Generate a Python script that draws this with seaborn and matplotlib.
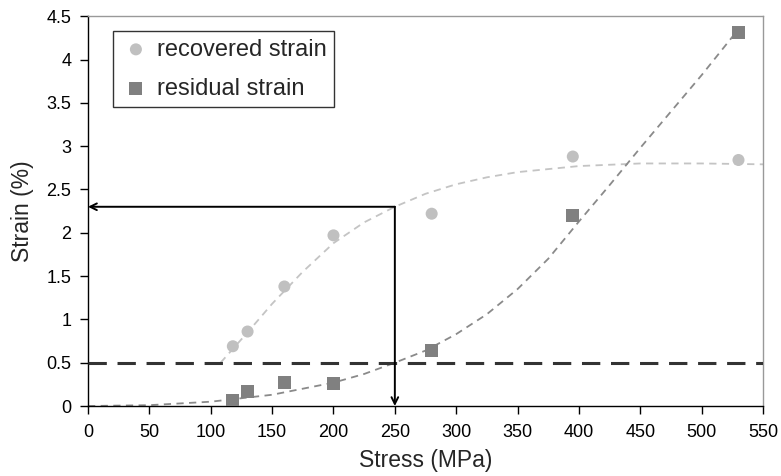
import matplotlib
matplotlib.use("Agg")
import matplotlib.pyplot as plt
import numpy as np
import pandas as pd
import seaborn as sns

# measured points
stress = [118, 130, 160, 200, 280, 395, 530]
recovered = [0.69, 0.86, 1.38, 1.97, 2.22, 2.88, 2.84]
residual = [0.06, 0.17, 0.27, 0.26, 0.64, 2.20, 4.31]

# trend curves
rec_fit_x = [108, 130, 150, 175, 200, 225, 250, 275, 300, 325, 350, 400, 450, 500, 550]
rec_fit_y = [0.50, 0.85, 1.18, 1.55, 1.88, 2.12, 2.30, 2.45, 2.56, 2.64, 2.70, 2.77, 2.80, 2.80, 2.79]
res_fit_x = [0, 50, 100, 150, 200, 225, 250, 275, 300, 325, 350, 375, 400, 425, 450, 475, 500, 530]
res_fit_y = [0.00, 0.01, 0.05, 0.13, 0.27, 0.37, 0.50, 0.64, 0.83, 1.06, 1.35, 1.70, 2.13, 2.55, 2.98, 3.40, 3.82, 4.35]

# read-off point
x_read, y_read = 250, 2.3
threshold = 0.5

df = pd.DataFrame({"stress": stress, "recovered": recovered, "residual": residual})

sns.set_theme(style="white")
plt.rcParams["font.family"] = ["Liberation Sans", "DejaVu Sans"]

fig = plt.figure(figsize=(7.81, 4.76), dpi=100)
ax = fig.add_axes([0.1127, 0.147, 0.8643, 0.819])

sns.lineplot(x=rec_fit_x, y=rec_fit_y, ax=ax, color="#c4c4c4", linestyle=(0, (4, 3)),
             linewidth=1.3, zorder=2)
sns.lineplot(x=res_fit_x, y=res_fit_y, ax=ax, color="#8a8a8a", linestyle=(0, (4, 3)),
             linewidth=1.3, zorder=2)

sns.scatterplot(data=df, x="stress", y="recovered", ax=ax, marker="o", s=75,
                color="#c0c0c0", edgecolor="none", label="recovered strain", zorder=4)
sns.scatterplot(data=df, x="stress", y="residual", ax=ax, marker="s", s=85,
                color="#808080", edgecolor="none", label="residual strain", zorder=4)

ax.axhline(threshold, color="#333333", linewidth=2.2, linestyle=(0, (6, 3.5)), zorder=3)

# arrows
ax.annotate("", xy=(0, y_read), xytext=(x_read, y_read),
            arrowprops=dict(arrowstyle="->", color="black", lw=1.4, shrinkA=0, shrinkB=0,
                            mutation_scale=12), zorder=5)
ax.annotate("", xy=(x_read, 0), xytext=(x_read, y_read),
            arrowprops=dict(arrowstyle="->", color="black", lw=1.4, shrinkA=0, shrinkB=0,
                            mutation_scale=12), zorder=5)

ax.set_xlim(0, 550)
ax.set_ylim(0, 4.5)
ax.set_xticks(np.arange(0, 551, 50))
ax.set_yticks(np.arange(0, 4.51, 0.5))
ax.set_yticklabels(["0", "0.5", "1", "1.5", "2", "2.5", "3", "3.5", "4", "4.5"])
ax.tick_params(axis="both", direction="out", length=6, width=1, colors="black",
               labelsize=13, bottom=True, left=True)
ax.tick_params(axis="x", pad=7)
ax.tick_params(axis="y", pad=6)
ax.set_xlabel("Stress (MPa)", fontsize=16.5, labelpad=6)
ax.set_ylabel("Strain (%)", fontsize=16.5, labelpad=9)

for side in ["left", "bottom"]:
    ax.spines[side].set_color("black")
    ax.spines[side].set_linewidth(1)
for side in ["top", "right"]:
    ax.spines[side].set_color("#999999")
    ax.spines[side].set_linewidth(1)

leg = ax.legend(loc="upper left", bbox_to_anchor=(0.037, 0.962), fontsize=17,
                frameon=True, fancybox=False, edgecolor="black", handletextpad=0.25,
                borderpad=0.32, labelspacing=0.72, handlelength=1.3, borderaxespad=0)
leg.get_frame().set_linewidth(1)

fig.savefig("out.png", dpi=100)
